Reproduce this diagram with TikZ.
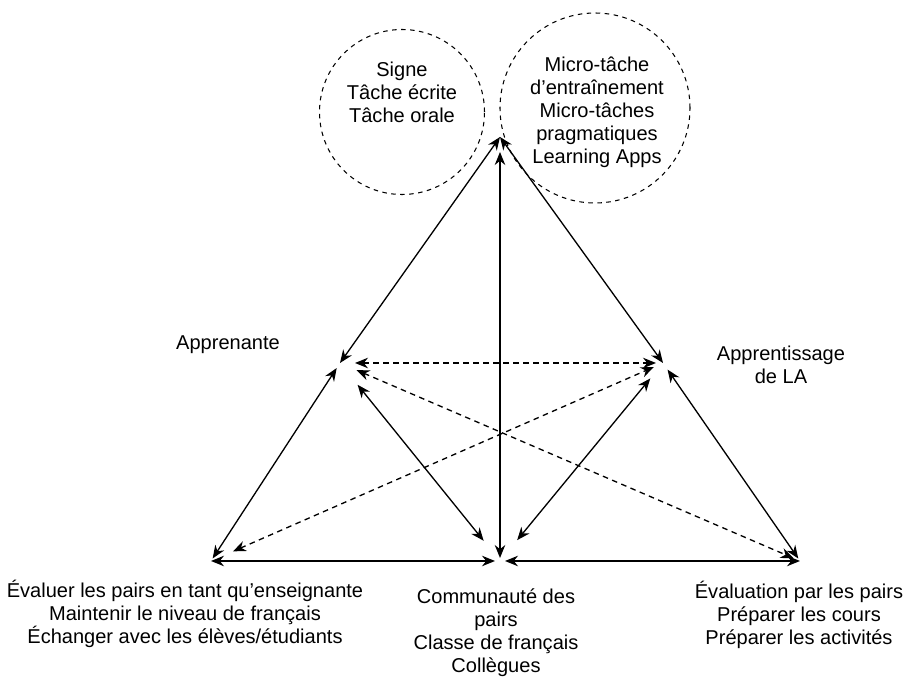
\documentclass[tikz,border=0pt]{standalone}
\usepackage{fontspec}
\setmainfont{Liberation Sans}
\usetikzlibrary{arrows.meta}

\begin{document}
\begin{tikzpicture}[x=0.2mm, y=-0.2mm,
        every node/.style={font=\fontsize{11.4}{13.1}\selectfont, align=center, inner sep=0pt},
        link/.style={black, line width=0.75pt, {Stealth[length=2.6mm,width=2.1mm]}-{Stealth[length=2.6mm,width=2.1mm]}},
        dlink/.style={link, dash pattern=on 1.1mm off 0.9mm},
        zone/.style={circle, draw, line width=0.6pt, dash pattern=on 0.9mm off 0.9mm}]
        \useasboundingbox (0,0) rectangle (904,677);
        \coordinate (A) at (500,137);
        \coordinate (L) at (340,363);
        \coordinate (R) at (663,363);
        \coordinate (BL) at (211,561);
        \coordinate (BM) at (500,561);
        \coordinate (BR) at (800,561);
        \node[zone, minimum size=33mm] (cirL) at (402,112) {};
        \node[zone, minimum size=38mm] (cirR) at (595,108) {};
        \node (signe) at (402,92) {Signe\\Tâche écrite\\Tâche orale};
        \node (micro) at (597,112) {Micro-tâche\\d'entraînement\\Micro-tâches\\pragmatiques\\Learning Apps};
        \node (apprenante) at (228,345) {Apprenante};
        \node (apprentissage) at (781,365) {Apprentissage\\de LA};
        \node (evaluer) at (185,614) {Évaluer les pairs en tant qu'enseignante\\Maintenir le niveau de français\\Échanger avec les élèves/étudiants};
        \node (communaute) at (496,633) {Communauté des\\pairs\\Classe de français\\Collègues};
        \node (evaluation) at (799,615) {Évaluation par les pairs\\Préparer les cours\\Préparer les activités};
        \foreach \a/\b/\s/\t in {A/L/0/0, A/R/0/0, BM/A/3/15, BL/L/3/6, BL/BM/0/5, BM/BR/5/0, R/BR/8/3, L/BM/28/26, R/BM/20/27} {
                \draw[link, shorten <=\s*0.2mm, shorten >=\t*0.2mm] (\a) -- (\b);
            }
        \foreach \a/\b/\s/\t in {L/R/15/7, BL/R/24/10, L/BR/18/7} {
                \draw[dlink, shorten <=\s*0.2mm, shorten >=\t*0.2mm] (\a) -- (\b);
            }
    \end{tikzpicture}
\end{document}
